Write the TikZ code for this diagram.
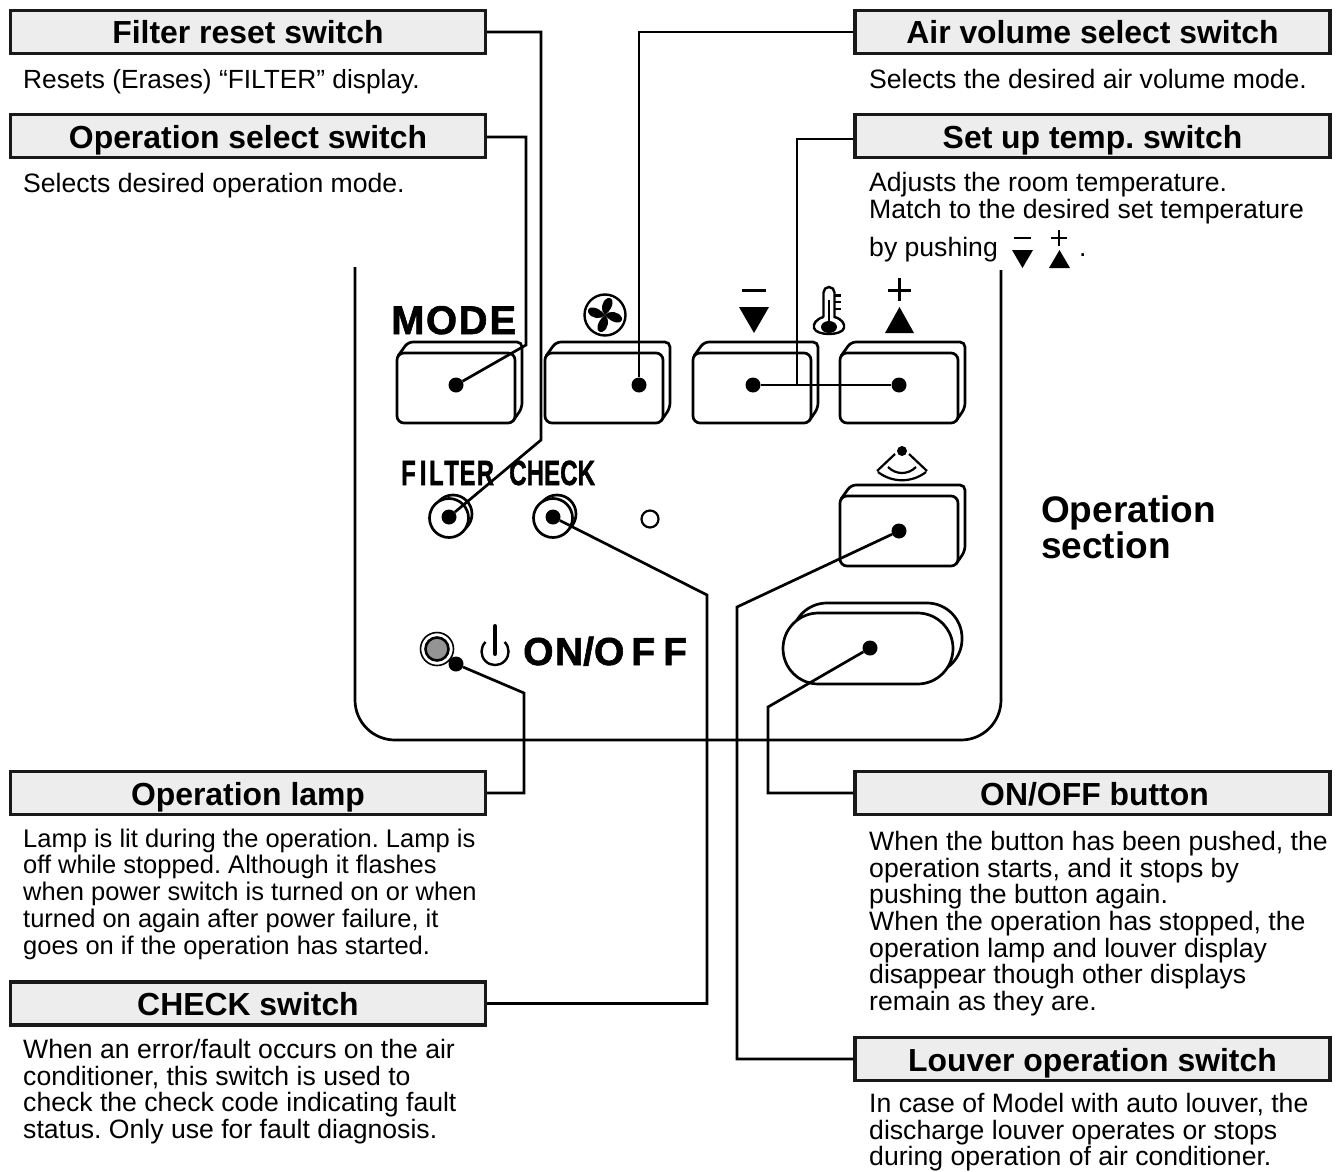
\documentclass[tikz,border=0pt]{standalone}
\usepackage{fontspec}
\usepackage{graphicx}
\setmainfont{Liberation Sans}
\newfontfamily\panelfont[FakeBold=1.5]{Liberation Sans Bold}
\usetikzlibrary{calc}
\frenchspacing
\newcommand\ftop{\rule{0pt}{19pt}}
\newcommand\btnshape[2]{%
  \draw[btnline,rounded corners=5pt] (#1+1,#2+3) -- (#1+11,#2-11) -- (#1+125,#2-11) -- (#1+125,#2+55) -- (#1+116,#2+68);
  \draw[btnline,fill=white,rounded corners=7pt] (#1,#2) rectangle (#1+118,#2+70);
}
\tikzset{
  x=1pt,y=-1pt,
  lead/.style={line width=2.7pt,line join=miter},
  btnline/.style={line width=2.7pt,black},
  headbox/.style={draw=black!90,line width=3.4pt,fill=black!7,minimum width=475pt,minimum height=43pt,inner sep=0pt,text height=24pt,text depth=0pt,font=\fontsize{31.9}{34}\selectfont\bfseries},
  para/.style={anchor=north west,inner sep=0pt,align=left,font=\fontsize{26.6}{26.7}\selectfont},
  lamppara/.style={para,font=\fontsize{25.5}{26.7}\selectfont},
  dot/.style={circle,fill=black,inner sep=0pt,minimum size=15pt},
  panellabel/.style={inner sep=0pt,font=\fontsize{39}{40}\panelfont},
  symb/.style={fill=black,draw=none},
}
\begin{document}
\begin{tikzpicture}
\useasboundingbox (0,0) rectangle (1338,1172);
% panel
\draw[line width=2.7pt,rounded corners=40pt] (355,267) -- (355,740) -- (1001,740) -- (1001,270);
% header boxes
\node[headbox] (filterbox) at (248,32) {Filter reset switch};
\node[headbox] (selectbox) at (248,136) {Operation select switch};
\node[headbox] (lampbox) at (248,793) {Operation lamp};
\node[headbox] (checkbox) at (248,1003.5) {CHECK switch};
\node[headbox] (airbox) at (1092.5,32) {Air volume select switch};
\node[headbox] (setbox) at (1092.5,136) {Set up temp. switch};
\node[headbox] (onoffbox) at (1092.5,793) {\hspace*{4pt}ON/OFF button};
\node[headbox] (louverbox) at (1092.5,1059) {Louver operation switch};
% descriptions
\node[para,font=\fontsize{26.3}{26.7}\selectfont] (filtertext) at (23,69) {\ftop Resets (Erases) “FILTER” display.};
\node[para] (selecttext) at (23,173) {\ftop Selects desired operation mode.};
\node[para] (airtext) at (869,69) {\ftop Selects the desired air volume mode.};
\node[para] (settext) at (869,172) {\ftop Adjusts the room temperature.\\Match to the desired set temperature};
\node[para] (pushtext) at (869,237) {\ftop by pushing};
\node[para] (pushdot) at (1079,237) {\ftop .};
\node[lamppara] (lamptext) at (23,828) {\ftop Lamp is lit during the operation. Lamp is\\off while stopped. Although it flashes\\when power switch is turned on or when\\turned on again after power failure, it\\goes on if the operation has started.};
\node[para] (checktext) at (23,1039) {\ftop When an error/fault occurs on the air\\conditioner, this switch is used to\\check the check code indicating fault\\status. Only use for fault diagnosis.};
\node[para] (onofftext) at (869,831) {\ftop When the button has been pushed, the\\operation starts, and it stops by\\pushing the button again.\\When the operation has stopped, the\\operation lamp and louver display\\disappear though other displays\\remain as they are.};
\node[para] (louvertext) at (869,1093) {\ftop In case of Model with auto louver, the\\discharge louver operates or stops\\during operation of air conditioner.};
\node[anchor=north west,inner sep=0pt,align=left,font=\fontsize{37}{36}\selectfont\bfseries] (section) at (1041,495) {Operation\\section};
% small symbols in text
\draw[line width=2pt] (1014,238) -- (1031,238);
\fill[symb] (1012,250) -- (1033,250) -- (1022.5,268) -- cycle;
\draw[line width=2pt] (1051,238) -- (1067,238) (1059,230) -- (1059,246);
\fill[symb] (1049,268) -- (1070,268) -- (1059.5,250) -- cycle;
% panel labels
\node[panellabel,anchor=base west] (modelabel) at (391,334) {\fontsize{40}{40}\panelfont M\kern1.5pt O\kern1.5pt D\kern2pt E};
\node[panellabel,anchor=base west] (filterlabel) at (401,485) {\scalebox{.68}[1]{\fontsize{35}{36}\panelfont F\kern6pt I\kern4pt L\kern1pt T\kern1pt E\kern2pt R}};
\node[panellabel,anchor=base west] (checklabel) at (509,485) {\scalebox{.69}[1]{\fontsize{35}{36}\panelfont CHECK}};
\node[panellabel,anchor=base west] (onofflabel) at (523,665) {O\kern1.5pt N/O\kern7pt F\kern8pt F};
% buttons
\btnshape{397}{353}
\btnshape{545}{353}
\btnshape{693}{353}
\btnshape{840}{353}
\btnshape{840}{496}
% pill
\draw[btnline,rounded corners=35pt] (792,603) rectangle (962,674);
\draw[btnline,fill=white,rounded corners=35.5pt] (783,613) rectangle (953,684);
% round buttons
\draw[btnline] (453,514) circle[radius=19pt];
\draw[btnline,fill=white] (449,518) circle[radius=19.5pt];
\draw[btnline] (557,514) circle[radius=19pt];
\draw[btnline,fill=white] (553,518) circle[radius=19.5pt];
\draw[line width=2.2pt] (650,519) circle[radius=8.5pt];
% lamp
\draw[line width=1.6pt] (437,649) circle[radius=16.5pt];
\draw[line width=2.6pt,fill=black!42] (437,649) circle[radius=11.5pt];
% power symbol
\draw[line width=2.4pt] (485.5,642) arc[start angle=135,end angle=405,radius=13.5pt];
\draw[line width=4pt,line cap=round] (495,626) -- (495,654);
% fan
\begin{scope}[shift={(605,315)}]
\draw[line width=2.4pt] (0,0) circle[radius=20.5pt];
\foreach \a in {0,90,180,270}{
  \fill[rotate=\a] (0,0) .. controls (-5,-4) and (-4,-14) .. (3,-17) .. controls (9,-18) and (10,-8) .. (0,0) -- cycle;
}
\end{scope}
% minus / plus with triangles
\draw[line width=3pt] (742,290) -- (766,290);
\fill[symb] (739,307) -- (769,307) -- (754,333) -- cycle;
\draw[line width=3pt] (888,290) -- (911,290) (899.5,278) -- (899.5,301);
\fill[symb] (885,333) -- (914,333) -- (899.5,307) -- cycle;
% thermometer
\draw[line width=2.4pt,fill=white] (823.5,317) -- (823.5,292.5) arc[start angle=180,end angle=0,radius=5.5pt] -- (834.5,317) .. controls (842,319) and (845,324) .. (844,328) .. controls (842,336) and (816,336) .. (814,328) .. controls (813,324) and (816,319) .. (823.5,317);
\fill (829,327) ellipse[x radius=8pt,y radius=6pt];
\draw[line width=2.4pt] (829,300) -- (829,322);
\draw[line width=2.2pt] (835,295.5) -- (841,295.5) (835,302) -- (841,302) (835,309) -- (841,309);
% louver symbol
\fill (902,451) circle[radius=5pt];
\draw[line width=2.2pt] (895,454) -- (877,471) (909,454) -- (927,471);
\draw[line width=2.2pt] (888,467) .. controls (896,475) and (908,475) .. (916,467);
\draw[line width=2.2pt] (878,472) .. controls (892,483) and (912,483) .. (926,472);
% dots
\node[dot] (dmode) at (456,385) {};
\node[dot] (dair) at (639,385) {};
\node[dot] (dminus) at (753,385) {};
\node[dot] (dplus) at (899,385) {};
\node[dot] (dlouver) at (899,531) {};
\node[dot] (donoff) at (870,648) {};
\node[dot] (dfilter) at (449,517) {};
\node[dot] (dcheck) at (553,517) {};
\node[dot] (dlamp) at (456,664) {};
% bends
\coordinate (bfilter) at (541,440);
\coordinate (bselect) at (526,345);
\coordinate (bset) at (797,385);
\coordinate (bcheck) at (707,595);
\coordinate (blamp) at (524,693);
\coordinate (bonoff) at (768,707);
\coordinate (blouver) at (737,607);
% connectors
\draw[lead] (filterbox.east) -| (bfilter) -- (dfilter);
\draw[lead] (selectbox.east) ++(0,1) -| (bselect) -- (dmode);
\draw[lead] (airbox.west) -| (dair);
\draw[lead] (setbox.west) ++(0,3) -| (bset);
\draw[lead] (dminus) -- (dplus);
\draw[lead] (checkbox.east) -| (bcheck) -- (dcheck);
\draw[lead] (lampbox.east) -| (blamp) -- (dlamp);
\draw[lead] (onoffbox.west) -| (bonoff) -- (donoff);
\draw[lead] (louverbox.west) -| (blouver) -- (dlouver);
\end{tikzpicture}
\end{document}
